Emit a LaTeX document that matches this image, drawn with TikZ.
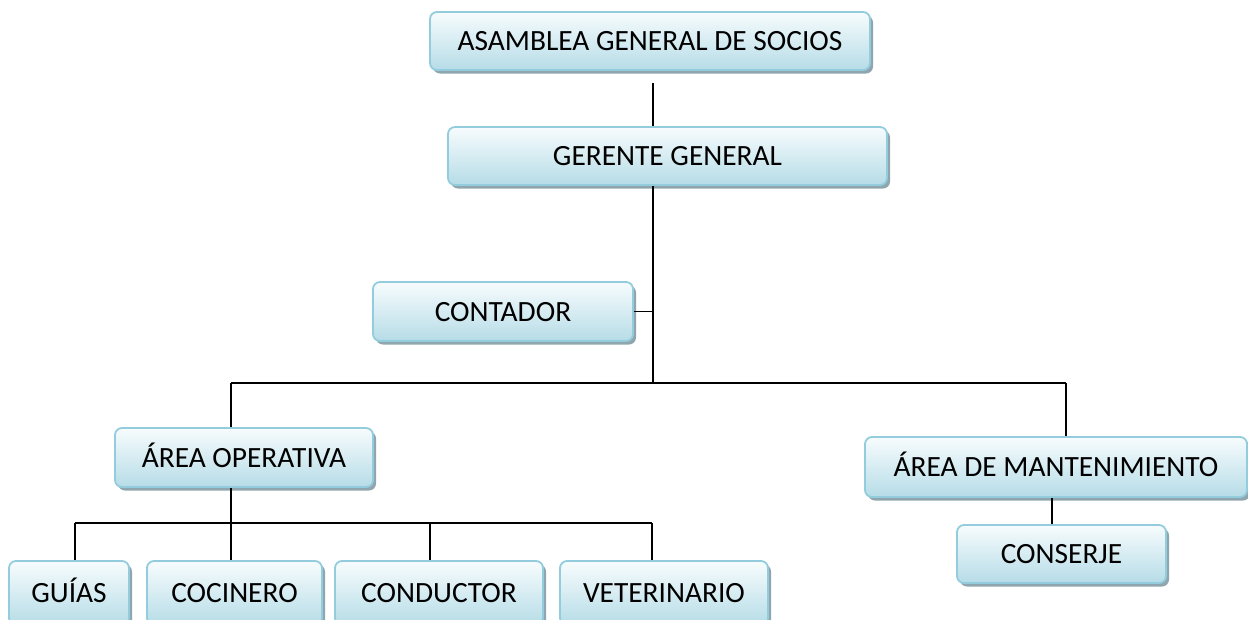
\documentclass[tikz,border=0pt]{standalone}
\usepackage{fontspec}
\setmainfont{Carlito}
\usetikzlibrary{shadows}
\definecolor{boxline}{HTML}{93CDDD}
\definecolor{boxtop}{HTML}{F7FCFD}
\definecolor{boxbot}{HTML}{B6DCE7}
\definecolor{boxshadow}{HTML}{8FA6AE}
\tikzset{
  cargo/.style={draw=boxline, line width=1.8pt, rounded corners=7pt,
    top color=boxtop, bottom color=boxbot,
    drop shadow={shadow xshift=3pt, shadow yshift=-3.5pt, fill=boxshadow, opacity=1},
    inner sep=0pt, text height=19pt, text depth=-3pt,
    font=\fontsize{29.4}{34}\selectfont},
  enlace/.style={line width=1.4pt, black}
}
\begin{document}
\begin{tikzpicture}[x=1pt,y=-1pt]
    \useasboundingbox (0,0) rectangle (1248,619);
    % cajas
    \node[cargo, minimum width=440pt, minimum height=58pt] (asamblea) at (650,41) {ASAMBLEA GENERAL DE SOCIOS};
    \node[cargo, minimum width=439pt, minimum height=58pt] (gerente) at (667.5,156) {GERENTE GENERAL};
    \node[cargo, minimum width=260pt, minimum height=59pt] (contador) at (503,311.5) {CONTADOR};
    \node[cargo, minimum width=258pt, minimum height=59pt] (operativa) at (244,457.5) {ÁREA OPERATIVA};
    \node[cargo, minimum width=382pt, minimum height=60pt] (mantenimiento) at (1056,467) {ÁREA DE MANTENIMIENTO};
    \node[cargo, minimum width=209pt, minimum height=58pt] (conserje) at (1061.5,554) {CONSERJE};
    \node[cargo, minimum width=120pt, minimum height=64pt] (guias) at (69,593) {GUÍAS};
    \node[cargo, minimum width=175pt, minimum height=64pt] (cocinero) at (234.5,593) {COCINERO};
    \node[cargo, minimum width=208pt, minimum height=64pt] (conductor) at (439,593) {CONDUCTOR};
    \node[cargo, minimum width=208pt, minimum height=64pt] (veterinario) at (664,593) {VETERINARIO};
    % puntos de las lineas
    \coordinate (tronco) at (653,383);
    \coordinate (izq) at (231,383);
    \coordinate (der) at (1066,383);
    \coordinate (rama) at (231,523);
    \coordinate (ramaizq) at (75,523);
    \coordinate (ramacen) at (430,523);
    \coordinate (ramader) at (652,523);
    \coordinate (baja) at (1052,523);
    % lineas
    \draw[enlace] ([yshift=-12pt]asamblea.south -| tronco) -- (gerente.north -| tronco);
    \draw[enlace] (gerente.south -| tronco) -- (tronco);
    \draw[enlace] (contador.east) -- (contador.east -| tronco);
    \draw[enlace] (izq) -- (der);
    \draw[enlace] (izq) -- (operativa.north -| izq);
    \draw[enlace] (der) -- (mantenimiento.north -| der);
    \draw[enlace] (mantenimiento.south -| baja) -- (conserje.north -| baja);
    \draw[enlace] (operativa.south -| rama) -- (rama);
    \draw[enlace] (ramaizq) -- (ramader);
    \draw[enlace] (ramaizq) -- (guias.north -| ramaizq);
    \draw[enlace] (rama) -- (cocinero.north -| rama);
    \draw[enlace] (ramacen) -- (conductor.north -| ramacen);
    \draw[enlace] (ramader) -- (veterinario.north -| ramader);
\end{tikzpicture}
\end{document}
